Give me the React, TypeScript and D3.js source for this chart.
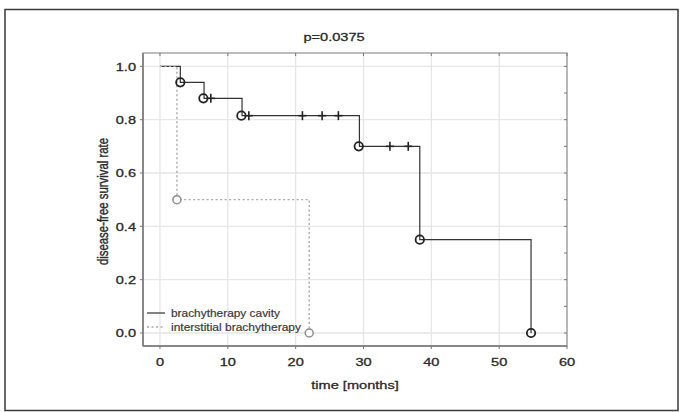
import React from "react";
import * as d3 from "d3";

// Kaplan-Meier step data (time in months, survival rate)
const cavityTimes = [0, 3, 6.5, 12.1, 29.4, 38.3, 54.7];
const cavityRates = [1.0, 0.94, 0.88, 0.815, 0.70, 0.35, 0.0];
const cavityEventTimes = [3, 6.4, 12.0, 29.3, 38.3, 54.7];
const cavityEventRates = [0.94, 0.88, 0.815, 0.70, 0.35, 0.0];
const cavityCensorTimes = [7.5, 13.1, 21.0, 23.9, 26.3, 33.9, 36.6];
const cavityCensorRates = [0.88, 0.815, 0.815, 0.815, 0.815, 0.70, 0.70];

const interTimes = [0, 2.5, 22.0];
const interRates = [1.0, 0.5, 0.0];
const interEventTimes = [2.5, 22.0];
const interEventRates = [0.5, 0.0];

const xTicks = [0, 10, 20, 30, 40, 50, 60];
const yTicks = [0, 0.2, 0.4, 0.6, 0.8, 1.0];
const yMinorTicks = [0.1, 0.3, 0.5, 0.7, 0.9];

const titleText = "p=0.0375";
const xLabel = "time [months]";
const yLabel = "disease-free survival rate";
const legendLabels = ["brachytherapy cavity", "interstitial brachytherapy"];

const W = 680;
const H = 412;
const L = 143, R = 567, T = 53, B = 346;
const SX = 1.28; // horizontal stretch of the reference text

export default function App() {
  const x = d3.scaleLinear().domain([-2.5, 60]).range([L, R]);
  const y = d3.scaleLinear().domain([-0.0525, 1.05]).range([B + 1, T]);

  const stepLine = d3
    .line<[number, number]>()
    .x((d) => x(d[0]))
    .y((d) => y(d[1]))
    .curve(d3.curveStepAfter);

  const cavityPts: [number, number][] = cavityTimes.map((t, i) => [t, cavityRates[i]]);
  const interPts: [number, number][] = interTimes.map((t, i) => [t, interRates[i]]);

  const font = "'Liberation Sans', Arial, sans-serif";
  const fs = 11.4;
  const txt = "#2a2a2a";

  const hText = (key: string, cx: number, by: number, s: string, anchor: "start" | "middle" | "end", size = fs) => (
    <text
      key={key}
      transform={`translate(${cx}, ${by}) scale(${SX}, 1)`}
      textAnchor={anchor}
      fontSize={size}
      fontFamily={font}
      fill={txt}
      stroke={txt}
      strokeWidth={0.3}
    >
      {s}
    </text>
  );

  return (
    <svg
      width={W}
      height={H}
      style={{ position: "absolute", left: 0, top: 0, background: "#fff" }}
    >
      <rect x={5} y={9.5} width={673} height={401} fill="#fff" stroke="#3a3a3a" strokeWidth={1.5} />

      {/* grid */}
      {xTicks.map((t) => (
        <line key={"gx" + t} x1={x(t)} x2={x(t)} y1={T} y2={B} stroke="#e6e6e6" strokeWidth={1.3} />
      ))}
      {yTicks.map((t) => (
        <line key={"gy" + t} x1={L} x2={R} y1={y(t)} y2={y(t)} stroke="#e6e6e6" strokeWidth={1.3} />
      ))}

      {/* frame */}
      <rect x={L} y={T} width={R - L} height={B - T} fill="none" stroke="#9a9a9a" strokeWidth={1.3} />
      <line x1={L} x2={L} y1={T} y2={B} stroke="#888" strokeWidth={2} />
      <line x1={L} x2={R} y1={B} y2={B} stroke="#888" strokeWidth={2} />

      {/* top ticks */}
      {xTicks.map((t) => (
        <line key={"tt" + t} x1={x(t)} x2={x(t)} y1={T} y2={T + 3} stroke="#777" strokeWidth={1} />
      ))}
      {/* right ticks */}
      {[...yTicks, ...yMinorTicks].map((t) => (
        <line key={"rt" + t} x1={R - 3} x2={R} y1={y(t)} y2={y(t)} stroke="#777" strokeWidth={1} />
      ))}
      {/* left ticks */}
      {yTicks.map((t) => (
        <line key={"lt" + t} x1={L - 3} x2={L} y1={y(t)} y2={y(t)} stroke="#777" strokeWidth={1} />
      ))}
      {/* bottom ticks */}
      {xTicks.map((t) => (
        <line key={"bt" + t} x1={x(t)} x2={x(t)} y1={B} y2={B + 3} stroke="#777" strokeWidth={1} />
      ))}

      {/* tick labels */}
      {yTicks.map((t) => hText("yl" + t, 136, y(t) + 4.2, t.toFixed(1), "end"))}
      {xTicks.map((t) => hText("xl" + t, x(t), 366, String(t), "middle"))}

      {/* axis titles */}
      {hText("xt", 355, 389, xLabel, "middle")}
      <text
        transform={`translate(108, ${(T + B) / 2 + 2}) scale(${SX}, 1) rotate(-90)`}
        textAnchor="middle"
        fontSize={fs}
        fontFamily={font}
        fill={txt}
        stroke={txt}
        strokeWidth={0.3}
      >
        {yLabel}
      </text>
      {hText("title", 334, 41, titleText, "middle")}

      {/* cavity curve */}
      <path d={stepLine(cavityPts) || ""} fill="none" stroke="#333" strokeWidth={1.2} />

      {/* interstitial curve */}
      <path d={stepLine(interPts) || ""} fill="none" stroke="#a8a8a8" strokeWidth={1.4} strokeDasharray="2,2.5" />
      {interEventTimes.map((t, i) => (
        <circle key={"ic" + i} cx={x(t)} cy={y(interEventRates[i])} r={4} fill="#fff" stroke="#8c8c8c" strokeWidth={1.5} />
      ))}

      {cavityEventTimes.map((t, i) => (
        <circle key={"cc" + i} cx={x(t)} cy={y(cavityEventRates[i])} r={4.2} fill="none" stroke="#222" strokeWidth={1.8} />
      ))}
      {cavityCensorTimes.map((t, i) => {
        const cx = x(t);
        const cy = y(cavityCensorRates[i]);
        return (
          <g key={"cs" + i} stroke="#222" strokeWidth={1.6}>
            <line x1={cx} x2={cx} y1={cy - 4.5} y2={cy + 4.5} />
            <line x1={cx - 4} x2={cx + 4} y1={cy} y2={cy} />
          </g>
        );
      })}

      {/* legend */}
      <line x1={147} x2={165} y1={313} y2={313} stroke="#333" strokeWidth={1.2} />
      <line x1={147} x2={165} y1={327} y2={327} stroke="#a8a8a8" strokeWidth={1.4} strokeDasharray="2,2.5" />
      <text x={171} y={316.5} fontSize={11} fontFamily={font} fill="#3a3a3a" stroke="#3a3a3a" strokeWidth={0.2} textLength={109} lengthAdjust="spacingAndGlyphs">
        {legendLabels[0]}
      </text>
      <text x={171} y={331} fontSize={11} fontFamily={font} fill="#3a3a3a" stroke="#3a3a3a" strokeWidth={0.2} textLength={130} lengthAdjust="spacingAndGlyphs">
        {legendLabels[1]}
      </text>
    </svg>
  );
}
